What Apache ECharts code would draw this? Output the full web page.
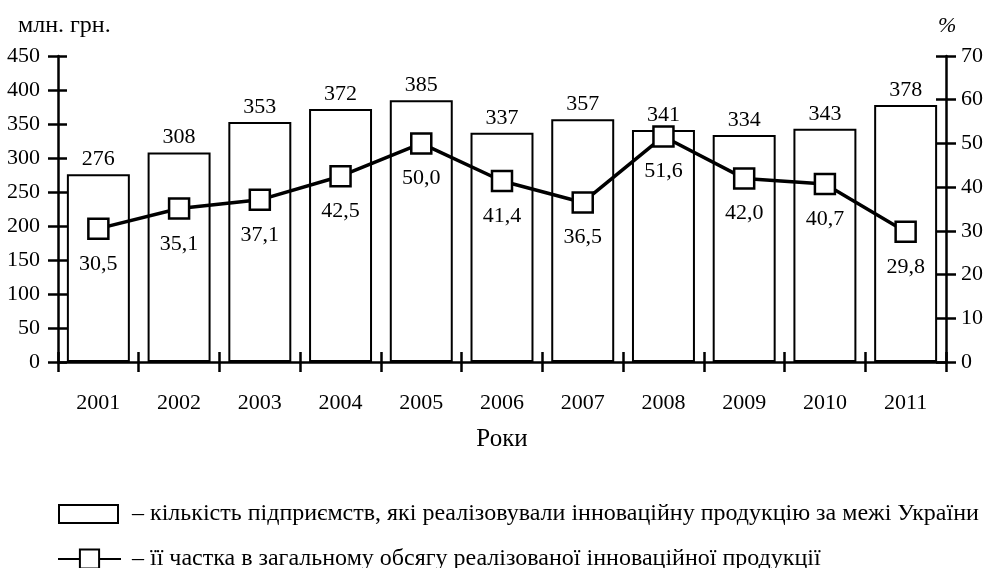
<!DOCTYPE html>
<html>
<head>
<meta charset="utf-8">
<script src="https://cdn.jsdelivr.net/npm/echarts@6/dist/echarts.min.js"></script>
<style>
html,body{margin:0;padding:0;background:#fff;}
#chart{width:986px;height:568px;}
</style>
</head>
<body>
<div id="chart"></div>
<script>
const years = ['2001','2002','2003','2004','2005','2006','2007','2008','2009','2010','2011'];
const enterprises = [276, 308, 353, 372, 385, 337, 357, 341, 334, 343, 378];
const sharePct = [30.5, 35.1, 37.1, 42.5, 50.0, 41.4, 36.5, 51.6, 42.0, 40.7, 29.8];
const leftTicks = {min: 0, max: 450, interval: 50};
const rightTicks = {min: 0, max: 70, interval: 10};
const barName = 'кількість підприємств, які реалізовували інноваційну продукцію за межі України';
const lineName = 'її частка в загальному обсягу реалізованої інноваційної продукції';

const FONT = '"Liberation Serif", "Times New Roman", serif';
const FS = 22;
const FS_BIG = 24;
const txt = {fontFamily: FONT, fontSize: FS, color: '#000'};
const txtBig = {fontFamily: FONT, fontSize: FS_BIG, color: '#000'};
const axisLine = {show: true, lineStyle: {color: '#000', width: 2.5}};

const chart = echarts.init(document.getElementById('chart'), null, {renderer: 'canvas'});
chart.setOption({
  animation: false,
  backgroundColor: '#fff',
  textStyle: {fontFamily: FONT},
  title: [
    {text: 'млн. грн.', left: 13, top: 9, textStyle: Object.assign({}, txtBig, {fontWeight: 'normal'})},
    {text: '%', left: 933, top: 10, textStyle: Object.assign({}, txt, {fontWeight: 'normal', fontStyle: 'italic'})}
  ],
  grid: {left: 58, right: 39, top: 56, bottom: 206, containLabel: false},
  legend: [
    {
      data: [{name: barName, icon: 'rect'}], left: 53, top: 497, itemWidth: 59, itemHeight: 18,
      formatter: n => '– ' + n,
      textStyle: Object.assign({}, txtBig, {padding: [0, 0, 0, 9]}),
      selectedMode: false
    },
    {
      data: [lineName], left: 52, top: 542, itemWidth: 63, itemHeight: 24,
      formatter: n => '– ' + n,
      textStyle: Object.assign({}, txtBig, {padding: [0, 0, 0, 6]}),
      selectedMode: false
    }
  ],
  xAxis: [
    {
      type: 'category', data: years, position: 'bottom',
      axisLine: axisLine,
      axisTick: {show: true, inside: false, length: 10, lineStyle: {color: '#000', width: 2.5}},
      axisLabel: Object.assign({}, txt, {margin: 30}),
      name: 'Роки', nameLocation: 'middle', nameGap: 65,
      nameTextStyle: Object.assign({}, txtBig, {fontSize: 25}),
      splitLine: {show: false}
    },
    {
      type: 'category', data: years, position: 'bottom', offset: 0,
      axisLine: {show: false},
      axisTick: {show: true, inside: true, length: 10, lineStyle: {color: '#000', width: 2.5}},
      axisLabel: {show: false},
      splitLine: {show: false}
    }
  ],
  yAxis: [
    {
      type: 'value', position: 'left', min: leftTicks.min, max: leftTicks.max, interval: leftTicks.interval,
      axisLine: axisLine,
      axisTick: {show: true, inside: false, length: 10, lineStyle: {color: '#000', width: 2.5}},
      axisLabel: Object.assign({}, txt, {margin: 18}),
      splitLine: {show: false}
    },
    {
      type: 'value', position: 'right', min: rightTicks.min, max: rightTicks.max, interval: rightTicks.interval,
      axisLine: axisLine,
      axisTick: {show: true, inside: false, length: 10, lineStyle: {color: '#000', width: 2.5}},
      axisLabel: Object.assign({}, txt, {margin: 15}),
      splitLine: {show: false}
    },
    {
      type: 'value', position: 'left', offset: 0, min: leftTicks.min, max: leftTicks.max, interval: leftTicks.interval,
      axisLine: {show: false},
      axisTick: {show: true, inside: true, length: 9, lineStyle: {color: '#000', width: 2.5}},
      axisLabel: {show: false},
      splitLine: {show: false}
    },
    {
      type: 'value', position: 'right', offset: 0, min: rightTicks.min, max: rightTicks.max, interval: rightTicks.interval,
      axisLine: {show: false},
      axisTick: {show: true, inside: true, length: 10, lineStyle: {color: '#000', width: 2.5}},
      axisLabel: {show: false},
      splitLine: {show: false}
    }
  ],
  series: [
    {
      name: barName, type: 'bar', xAxisIndex: 0, yAxisIndex: 0,
      data: enterprises, barCategoryGap: '22%',
      itemStyle: {color: '#fff', borderColor: '#000', borderWidth: 2},
      label: Object.assign({show: true, position: 'top', distance: 4}, txt),
      z: 2
    },
    {
      name: lineName, type: 'line', xAxisIndex: 0, yAxisIndex: 1,
      data: sharePct,
      symbol: 'rect', symbolSize: 20,
      itemStyle: {color: '#fff', borderColor: '#000', borderWidth: 2.5},
      lineStyle: {color: '#000', width: 3.5},
      label: Object.assign({show: true, position: 'bottom', distance: 13,
        formatter: p => p.value.toFixed(1).replace('.', ',')}, txt),
      z: 3
    }
  ]
});
</script>
</body>
</html>
